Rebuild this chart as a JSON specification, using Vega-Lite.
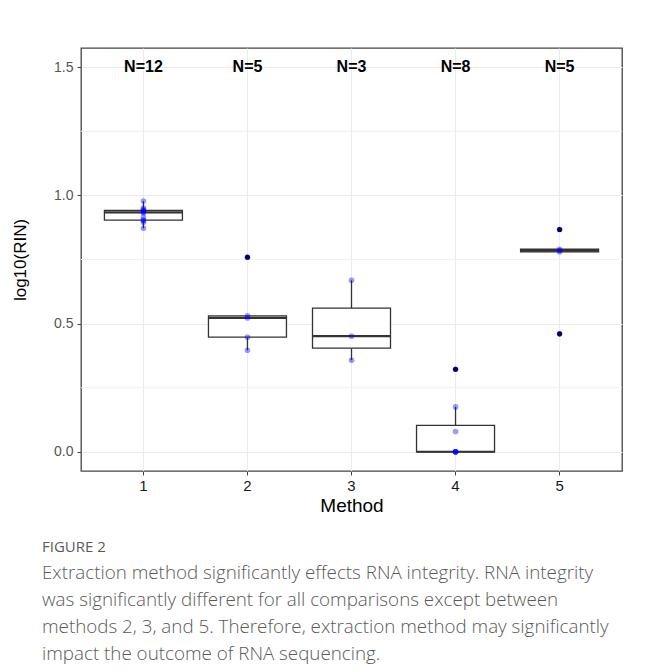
{
  "$schema": "https://vega.github.io/schema/vega-lite/v6.json",
  "autosize": {"type": "none"},
  "width": 541,
  "height": 423,
  "padding": {"left": 81, "top": 48, "right": 24, "bottom": 199},
  "background": "white",
  "title": {
    "text": "FIGURE 2",
    "subtitle": [
      "Extraction method significantly effects RNA integrity. RNA integrity",
      "was significantly different for all comparisons except between",
      "methods 2, 3, and 5. Therefore, extraction method may significantly",
      "impact the outcome of RNA sequencing."
    ],
    "orient": "bottom",
    "anchor": "start",
    "frame": "group",
    "dx": -39,
    "offset": 25,
    "font": "Open Sans",
    "fontSize": 15,
    "fontWeight": "normal",
    "color": "#5a5a5a",
    "subtitleFont": "Open Sans",
    "subtitleFontSize": 18.8,
    "subtitleFontWeight": 300,
    "subtitleColor": "#5a5a5a",
    "subtitleLineHeight": 27,
    "subtitlePadding": 9
  },
  "datasets": {
    "rin": [
      {"method": 1, "value": 0.872}, {"method": 1, "value": 0.895}, {"method": 1, "value": 0.902},
      {"method": 1, "value": 0.904}, {"method": 1, "value": 0.915}, {"method": 1, "value": 0.932},
      {"method": 1, "value": 0.936}, {"method": 1, "value": 0.938}, {"method": 1, "value": 0.941},
      {"method": 1, "value": 0.945}, {"method": 1, "value": 0.951}, {"method": 1, "value": 0.978},
      {"method": 2, "value": 0.396}, {"method": 2, "value": 0.447}, {"method": 2, "value": 0.522},
      {"method": 2, "value": 0.53}, {"method": 2, "value": 0.759},
      {"method": 3, "value": 0.357}, {"method": 3, "value": 0.451}, {"method": 3, "value": 0.669},
      {"method": 4, "value": 0}, {"method": 4, "value": 0}, {"method": 4, "value": 0},
      {"method": 4, "value": 0}, {"method": 4, "value": 0}, {"method": 4, "value": 0.079},
      {"method": 4, "value": 0.175}, {"method": 4, "value": 0.322},
      {"method": 5, "value": 0.46}, {"method": 5, "value": 0.78}, {"method": 5, "value": 0.785},
      {"method": 5, "value": 0.79}, {"method": 5, "value": 0.867}
    ],
    "counts": [
      {"method": 1, "label": "N=12", "y": 1.5},
      {"method": 2, "label": "N=5", "y": 1.5},
      {"method": 3, "label": "N=3", "y": 1.5},
      {"method": 4, "label": "N=8", "y": 1.5},
      {"method": 5, "label": "N=5", "y": 1.5}
    ],
    "minor": [{"g": 0.25}, {"g": 0.75}, {"g": 1.25}]
  },
  "config": {
    "view": {"stroke": "#444444", "strokeWidth": 1.3},
    "font": "Liberation Sans"
  },
  "layer": [
    {
      "data": {"name": "minor"},
      "mark": {"type": "rule", "color": "#f0f0f0", "strokeWidth": 1},
      "encoding": {
        "y": {"field": "g", "type": "quantitative", "scale": {"domain": [-0.075, 1.575], "nice": false, "zero": false}}
      }
    },
    {
      "data": {"name": "rin"},
      "mark": {
        "type": "boxplot",
        "extent": 1.5,
        "size": 78,
        "box": {"fill": "white", "stroke": "#333333", "strokeWidth": 1.3},
        "median": {"color": "#333333", "thickness": 2.2, "opacity": 1},
        "rule": {"color": "#333333", "strokeWidth": 1.3},
        "ticks": false,
        "outliers": {"color": "black", "filled": true, "size": 26, "opacity": 1}
      },
      "encoding": {
        "x": {
          "field": "method", "type": "ordinal",
          "scale": {"type": "band", "paddingInner": 0, "paddingOuter": 0.1},
          "axis": {
            "title": "Method", "titleFontSize": 19, "titleFontWeight": "normal", "titleColor": "black", "titlePadding": 3,
            "labelAngle": 0, "labelFontSize": 15, "labelColor": "#1a1a1a", "labelPadding": 3,
            "tickSize": 4, "tickColor": "#444444", "domain": false,
            "grid": true, "gridColor": "#ebebeb", "bandPosition": 0.5
          }
        },
        "y": {
          "field": "value", "type": "quantitative",
          "scale": {"domain": [-0.075, 1.575], "nice": false, "zero": false},
          "axis": {
            "title": "log10(RIN)", "titleFontSize": 17, "titleFontWeight": "normal", "titleColor": "black", "titlePadding": 24,
            "values": [0, 0.5, 1, 1.5], "format": ".1f",
            "labelFontSize": 14, "labelColor": "#555555", "labelPadding": 4,
            "tickSize": 4, "tickColor": "#444444", "domain": false,
            "grid": true, "gridColor": "#ebebeb"
          }
        }
      }
    },
    {
      "data": {"name": "rin"},
      "mark": {"type": "circle", "color": "#0000ff", "opacity": 0.4, "size": 32},
      "encoding": {
        "x": {"field": "method", "type": "ordinal"},
        "y": {"field": "value", "type": "quantitative"}
      }
    },
    {
      "data": {"name": "counts"},
      "mark": {"type": "text", "fontSize": 16, "fontWeight": "bold", "color": "black", "font": "Liberation Sans"},
      "encoding": {
        "x": {"field": "method", "type": "ordinal"},
        "y": {"field": "y", "type": "quantitative"},
        "text": {"field": "label"}
      }
    }
  ]
}
